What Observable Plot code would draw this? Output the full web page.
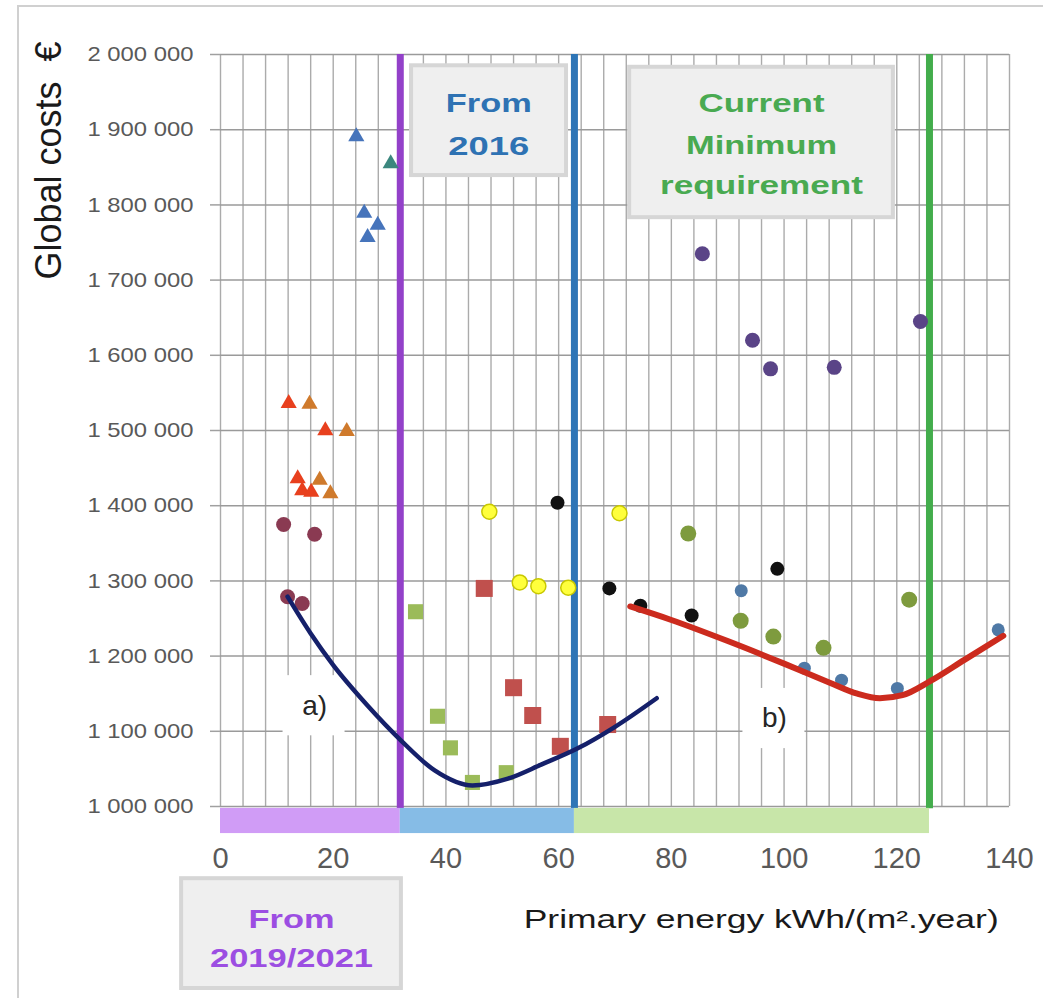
<!DOCTYPE html>
<html>
<head>
<meta charset="utf-8">
<script src="https://cdn.jsdelivr.net/npm/d3@7"></script>
<script src="https://cdn.jsdelivr.net/npm/@observablehq/plot@0.6"></script>
<style>
html, body { margin: 0; padding: 0; background: #fff; }
#wrap { position: relative; width: 1043px; height: 998px; overflow: hidden; background: #fff; }
#frame { position: absolute; left: 17px; top: 5px; width: 1100px; height: 1100px;
  border-left: 2px solid #d0d0d0; border-top: 2px solid #d0d0d0; }
#chart { position: absolute; left: 0; top: 0; }
#chart g[aria-label^="x-axis"] text { font-size: 29px; fill: #595959; }
#chart g[aria-label^="y-axis"] text { font-size: 21px; fill: #595959; }
#chart g[aria-label^="y-axis"] line, #chart g[aria-label^="y-axis"] path { stroke: #a0a0a0; stroke-width: 1.5; }
</style>
</head>
<body>
<div id="wrap"><div id="frame"></div><div id="chart"></div></div>
<script>
// ---------- tick labels ----------
const xTicks = [0, 20, 40, 60, 80, 100, 120, 140];
const yTicks = [1000000, 1100000, 1200000, 1300000, 1400000, 1500000, 1600000, 1700000, 1800000, 1900000, 2000000];

// ---------- threshold lines (primary energy) ----------
const thresholdX = [31.9, 62.8, 125.8];          // From 2019/2021, From 2016, Current minimum
const thresholdNames = ["From 2019/2021", "From 2016", "Current Minimum requirement"];

// ---------- scatter series ----------
const triBlueX = [24.1, 25.5, 27.9, 26.1];
const triBlueY = [1891000, 1789000, 1773000, 1757000];
const triTealX = [30.2];
const triTealY = [1855000];
const triRedX = [12.1, 18.6, 13.7, 14.5, 16.1];
const triRedY = [1536000, 1500000, 1436000, 1420000, 1418000];
const triOrangeX = [15.8, 22.4, 17.6, 19.5];
const triOrangeY = [1535000, 1499000, 1434000, 1416000];
const maroonX = [11.2, 16.7, 11.9, 14.5];
const maroonY = [1375000, 1362000, 1279000, 1270000];
const yellowX = [47.7, 53.1, 56.4, 61.7, 70.8];
const yellowY = [1392000, 1298000, 1293000, 1291000, 1390000];
const blackX = [59.8, 69.0, 74.5, 83.6, 98.8];
const blackY = [1404000, 1290000, 1267000, 1254000, 1316000];
const steelX = [92.4, 103.6, 110.2, 120.1, 138.0];
const steelY = [1287000, 1184000, 1168000, 1157000, 1235000];
const oliveX = [83.0, 92.3, 98.1, 107.0, 122.2];
const oliveY = [1363000, 1247000, 1226000, 1211000, 1275000];
const purpleX = [85.5, 94.4, 97.6, 108.9, 124.2];
const purpleY = [1735000, 1620000, 1582000, 1584000, 1645000];
const sqGreenX = [34.6, 38.5, 40.8, 44.7, 50.7];
const sqGreenY = [1259000, 1120000, 1078000, 1032000, 1045000];
const sqRedX = [46.8, 52.0, 55.4, 60.3, 68.7];
const sqRedY = [1290000, 1158000, 1121000, 1080000, 1109000];

// ---------- cost-optimal curves ----------
const curveAX = [11.9, 16, 20, 26, 32, 38, 44.7, 51, 57, 63.3, 70, 77.4];
const curveAY = [1279000, 1230000, 1188000, 1135000, 1088000, 1048000, 1028000, 1037000, 1056000, 1077000, 1106000, 1144000];
const curveBX = [72.7, 80, 90, 100, 108, 113, 117, 121, 126, 132, 138.9];
const curveBY = [1266000, 1248000, 1220000, 1190000, 1165000, 1150000, 1144000, 1148000, 1167000, 1195000, 1227000];

// ---------- texts ----------
const curveLabels = ["a)", "b)"];
const curveLabelX = [16.7, 98.3];
const curveLabelY = [1134000, 1117000];
const yTitle = "Global costs\u00a0\u00a0€";
const xTitle = "Primary energy kWh/(m².year)";
const noteBlue = ["From", "2016"];
const noteGreen = ["Current", "Minimum", "requirement"];
const notePurple = ["From", "2019/2021"];

// ---------- helpers ----------
const pts = (xs, ys) => xs.map((x, i) => ({x, y: ys[i]}));
const fmt = d => d3.format(",")(d).replace(/,/g, " ");

const bands = thresholdX.map((t, i) => ({x1: i === 0 ? 0 : thresholdX[i - 1], x2: t, name: thresholdNames[i]}));
const bandColors = ["#d09cf6", "#86bce6", "#c8e6a9"];
const lineColors = ["#9341c9", "#2e75b6", "#43ad4c"];

const gridX = d3.range(0, 141, 4);

const dotMark = (xs, ys, o) => Plot.dot(pts(xs, ys), {x: "x", y: "y", ...o});

const chart = Plot.plot({
  width: 1043,
  height: 998,
  marginLeft: 220,
  marginRight: 34,
  marginTop: 54,
  marginBottom: 192,
  style: {fontFamily: "'Liberation Sans', Arial, sans-serif", color: "#595959", background: "none", overflow: "visible"},
  x: {domain: [0, 140], ticks: xTicks, tickSize: 0, tickPadding: 41, label: null, tickFormat: d => String(d)},
  y: {domain: [1000000, 2000000], ticks: yTicks, tickSize: 10, tickPadding: 17, label: null, tickFormat: fmt},
  marks: [
    // grid
    Plot.ruleX(gridX, {y1: 1000000, y2: 2000000, stroke: "#ababab", strokeWidth: 1.4}),
    Plot.ruleY(yTicks, {x1: 0, x2: 140, stroke: "#9a9a9a", strokeWidth: 1.5}),
    // white boxes behind a) b)
    Plot.rect(curveLabels, {x1: (d, i) => curveLabelX[i] - 5.6, x2: (d, i) => curveLabelX[i] + 5.4,
      y1: (d, i) => curveLabelY[i] - 40000, y2: (d, i) => curveLabelY[i] + 40000, fill: "#fff"}),
    // annotation boxes
    Plot.rect([thresholdNames[1]], {x1: 33.9, x2: 61.4, y1: 1839000, y2: 1985000, fill: "#efefef", stroke: "#d6d6d6", strokeWidth: 4}),
    Plot.rect([thresholdNames[2]], {x1: 72.6, x2: 119.4, y1: 1783000, y2: 1983000, fill: "#efefef", stroke: "#d6d6d6", strokeWidth: 4}),
    Plot.rect([thresholdNames[0]], {x1: -6.9, x2: 32.1, y1: 758000, y2: 904000, fill: "#efefef", stroke: "#d6d6d6", strokeWidth: 4}),
    // threshold lines
    Plot.ruleX(thresholdX, {y1: 997000, y2: 2000000, stroke: (d, i) => lineColors[i], strokeWidth: 7}),
    // colored bands below the axis
    Plot.rect(bands, {x1: "x1", x2: "x2", y1: 964000, y2: 997500, fill: (d, i) => bandColors[i]}),
    // scatter
    dotMark(triBlueX, triBlueY, {symbol: "triangle", r: 6, fill: "#4674bb"}),
    dotMark(triTealX, triTealY, {symbol: "triangle", r: 6, fill: "#3b877e"}),
    dotMark(triRedX, triRedY, {symbol: "triangle", r: 6, fill: "#e8401e"}),
    dotMark(triOrangeX, triOrangeY, {symbol: "triangle", r: 6, fill: "#cf7a2c"}),
    dotMark(maroonX, maroonY, {r: 7.5, fill: "#8a3a52"}),
    dotMark(yellowX, yellowY, {r: 7.5, fill: "#ffff3c", stroke: "#c8c800", strokeWidth: 1.5}),
    dotMark(blackX, blackY, {r: 7, fill: "#111111"}),
    dotMark(oliveX, oliveY, {r: 8, fill: "#7e9b3e"}),
    dotMark(purpleX, purpleY, {r: 7.5, fill: "#5a4487"}),
    dotMark(steelX, steelY, {r: 6.5, fill: "#4f79a6"}),
    dotMark(sqGreenX, sqGreenY, {symbol: "square", r: 8.5, fill: "#9bbb59"}),
    dotMark(sqRedX, sqRedY, {symbol: "square", r: 9.6, fill: "#c0504d"}),
    // curves
    Plot.line(pts(curveAX, curveAY), {x: "x", y: "y", stroke: "#15206a", strokeWidth: 4.5, curve: "monotone-x"}),
    Plot.line(pts(curveBX, curveBY), {x: "x", y: "y", stroke: "#cc2b1e", strokeWidth: 6, curve: "monotone-x"}),
    // labels
    Plot.text(curveLabels, {x: (d, i) => curveLabelX[i], y: (d, i) => curveLabelY[i], text: d => d, fontSize: 28, fill: "#262626"}),
    Plot.text(noteBlue, {x: 47.6, y: (d, i) => [1923000, 1866000][i], text: d => d, lineAnchor: "bottom",
      fontSize: 26, fontWeight: "bold", fill: "#2e72b3"}),
    Plot.text(noteGreen, {x: 96.0, y: (d, i) => [1923000, 1868000, 1815000][i], text: d => d, lineAnchor: "bottom",
      fontSize: 26, fontWeight: "bold", fill: "#49aa51"}),
    Plot.text(notePurple, {x: 12.6, y: (d, i) => [839000, 786000][i], text: d => d, lineAnchor: "bottom",
      fontSize: 26, fontWeight: "bold", fill: "#9c4ee2"}),
    Plot.text([xTitle], {x: 53.8, y: 839000, text: d => d, textAnchor: "start", lineAnchor: "bottom",
      fontSize: 26, fill: "#1a1a1a"}),
    Plot.text([yTitle], {x: -30.4, y: 1859000, text: d => d, rotate: -90, fontSize: 36, fill: "#1a1a1a"})
  ]
});

document.getElementById("chart").appendChild(chart);

// stretch texts horizontally to match the reference proportions
const lengths = {"From": 86, "2016": 81, "Current": 126, "Minimum": 151, "requirement": 203,
  "2019/2021": 163, [xTitle]: 475};
chart.querySelectorAll("text").forEach(t => {
  const s = t.textContent;
  if (lengths[s] !== undefined) {
    t.setAttribute("textLength", lengths[s]);
    t.setAttribute("lengthAdjust", "spacingAndGlyphs");
  } else if (/^\d \d{3} \d{3}$/.test(s)) {
    t.setAttribute("textLength", 106);
    t.setAttribute("lengthAdjust", "spacingAndGlyphs");
  }
});
</script>
</body>
</html>
